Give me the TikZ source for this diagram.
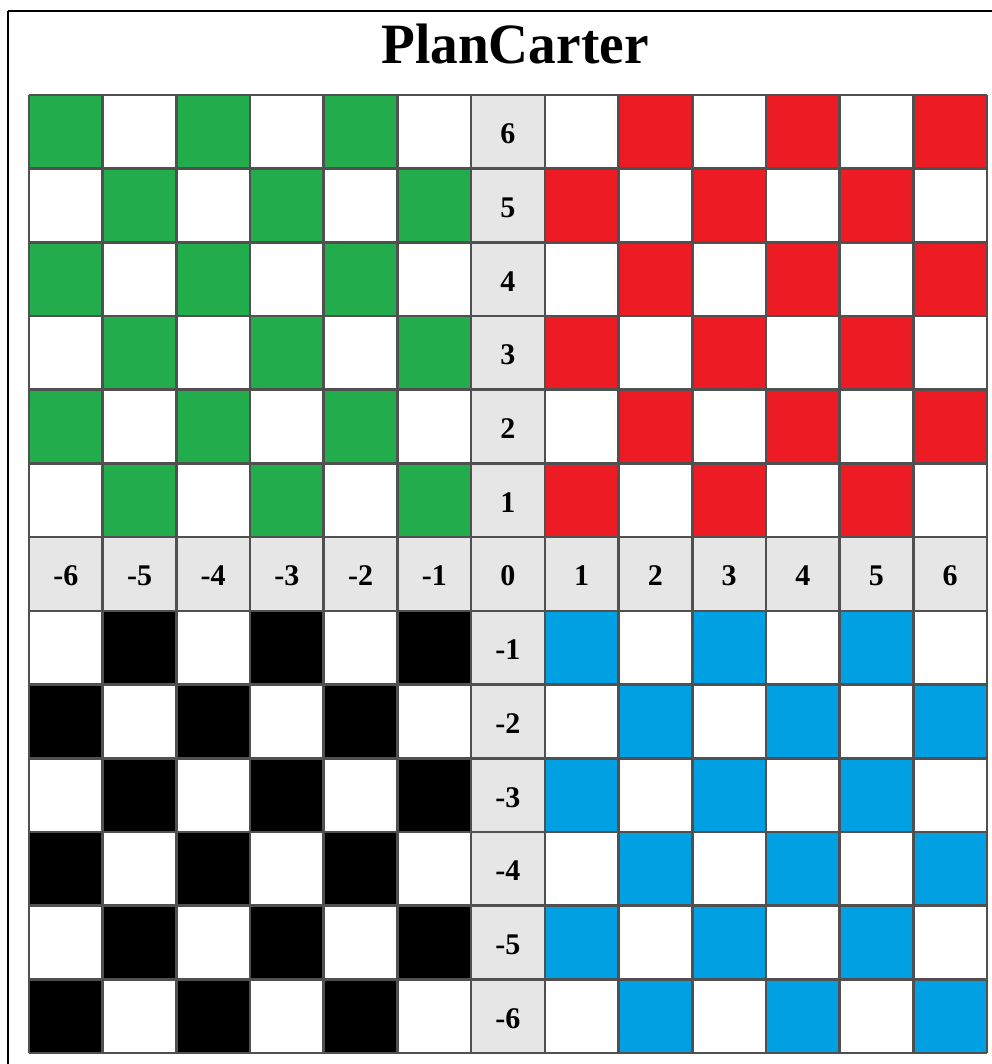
\documentclass[tikz,border=0pt]{standalone}
\usepackage{fontspec}
\setmainfont{Liberation Serif}
\definecolor{cgreen}{RGB}{34,172,75}
\definecolor{cred}{RGB}{237,28,36}
\definecolor{cblue}{RGB}{0,160,227}
\definecolor{cgray}{RGB}{230,230,230}
\definecolor{cline}{RGB}{80,80,80}
\begin{document}
\begin{tikzpicture}[x=1pt,y=-1pt,
  gridline/.style={draw=cline,line width=2.6pt},
  frameline/.style={draw=black,line width=2.5pt},
  lab/.style={font=\fontsize{30}{30}\selectfont\bfseries,anchor=base,inner sep=0pt},
  titlestyle/.style={font=\fontsize{57}{57}\selectfont\bfseries,anchor=base,inner sep=0pt,xscale=0.97}]
\useasboundingbox (0,0) rectangle (991,1064);
\fill[white] (0,0) rectangle (991,1064);
\def\cs{73.69}
\foreach \i in {-6,...,6}{
  \foreach \j in {-6,...,6}{
    \pgfmathtruncatemacro\pp{mod(abs(\i+\j),2)}
    \def\cc{white}
    \ifnum\pp=0
      \ifnum\i<0
        \ifnum\j>0 \def\cc{cgreen}\else\def\cc{black}\fi
      \else
        \ifnum\j>0 \def\cc{cred}\else\def\cc{cblue}\fi
      \fi
    \fi
    \ifnum\i=0 \def\cc{cgray}\fi
    \ifnum\j=0 \def\cc{cgray}\fi
    \fill[\cc] ({29+(\i+6)*\cs},{95+(6-\j)*\cs}) rectangle ++(\cs,\cs);
  }
}
\foreach \k in {0,...,13}{
  \draw[gridline] ({29+\k*\cs},95) -- ({29+\k*\cs},{95+13*\cs});
  \draw[gridline] (29,{95+\k*\cs}) -- ({29+13*\cs},{95+\k*\cs});
}
\foreach \i in {-6,...,6}{
  \node[lab] (h\i) at ({29+(\i+6.5)*\cs},{95+6.5*\cs+12}) {\i};
}
\foreach \j in {-6,...,-1,1,2,...,6}{
  \node[lab] (v\j) at ({29+6.5*\cs},{95+(6.5-\j)*\cs+12}) {\j};
}
\node[titlestyle] (title) at (515,64) {PlanCarter};
\draw[frameline] (8,11) -- (1000,11);
\draw[frameline] (8,11) -- (8,1075);
\end{tikzpicture}
\end{document}
